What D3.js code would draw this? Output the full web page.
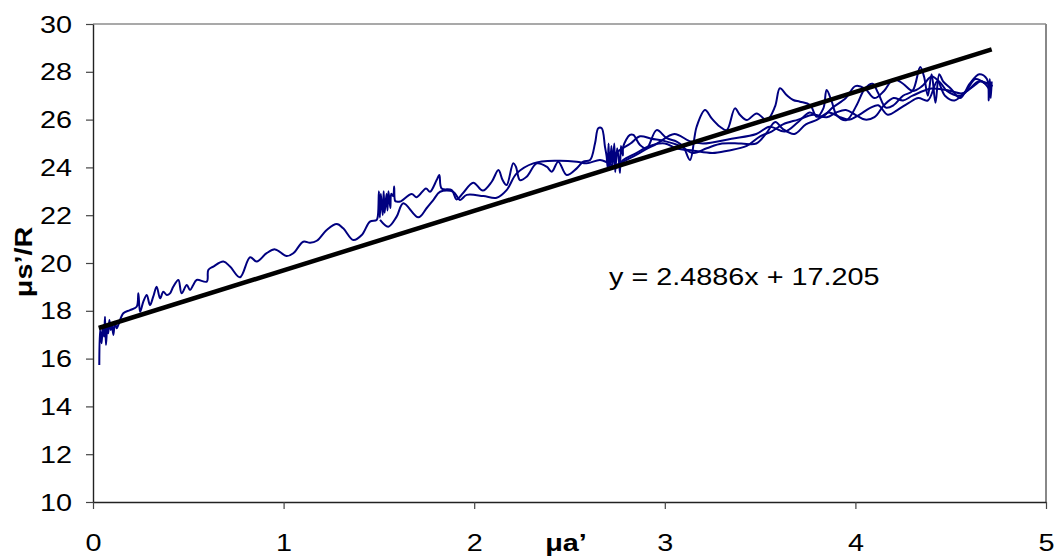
<!DOCTYPE html>
<html>
<head>
<meta charset="utf-8">
<script src="https://cdn.jsdelivr.net/npm/d3@7"></script>
<style>
  html, body { margin: 0; padding: 0; background: #fff; }
  svg { display: block; font-family: "Liberation Sans", Arial, sans-serif; }
</style>
</head>
<body>
<svg id="chart" width="1056" height="558"></svg>
<script>
// ---- data ----
const xTicks = [0, 1, 2, 3, 4, 5];
const yTicks = [10, 12, 14, 16, 18, 20, 22, 24, 26, 28, 30];
const xTitle = "μa’";
const yTitle = "μs’/R";
const trendSlope = 2.4886;
const trendIntercept = 17.205;
const trendRange = [0.03, 4.715];
const trendLabel = "y = 2.4886x + 17.205";

const run1 = [
  [0.033,15.73],[0.037,17.2],[0.045,16.64],[0.051,17.33],[0.058,16.92],[0.063,17.75],[0.068,16.57],[0.075,17.33],[0.080,17.06],[0.086,17.61],[0.093,17.2],[0.098,17.48],[0.107,16.99],[0.115,17.54],[0.124,17.27],[0.133,17.41],[0.159,17.9],[0.194,18.03],[0.229,18.17],[0.238,18.73],[0.247,17.96],[0.264,18.38],[0.282,18.66],[0.299,18.24],[0.316,18.59],[0.334,19.01],[0.352,18.52],[0.369,18.8],[0.387,18.66],[0.404,18.73],[0.421,19.01],[0.448,19.29],[0.465,18.73],[0.492,19.08],[0.509,18.87],[0.526,19.08],[0.544,19.29],[0.597,19.22],[0.605,19.71],[0.631,19.85],[0.684,20.06],[0.719,19.85],[0.771,19.40],[0.824,20.24],[0.859,20.06],[0.911,20.41],[0.955,20.57],[1.016,20.29],[1.051,20.41],[1.103,20.89],[1.139,20.85],[1.174,20.93],[1.226,21.38],[1.279,21.63],[1.313,21.45],[1.366,20.96],[1.410,21.17],[1.453,21.73],[1.488,21.80],
  [1.495,22.0],[1.50,23.0],[1.505,21.9],[1.51,22.9],[1.52,22.0],[1.525,23.0],[1.53,22.1],[1.54,22.9],[1.545,22.2],[1.55,23.0],[1.56,22.3],[1.565,22.9],[1.575,22.8],[1.58,23.2],[1.585,22.6],
  [1.593,22.57],[1.611,22.57],[1.672,22.89],[1.698,22.75],[1.747,23.12],[1.768,22.98],[1.803,23.47],[1.817,23.68],[1.829,23.12],[1.882,23.05],[1.908,22.66],[1.943,22.94],[1.995,23.36],[2.045,23.03],[2.092,23.40],[2.127,23.89],[2.149,23.47],[2.170,23.26],[2.205,24.17],[2.219,24.03],[2.240,23.47],[2.275,23.61],[2.328,24.17],[2.380,24.03],[2.407,23.82],[2.441,24.24],[2.485,23.68],[2.538,23.96],[2.572,24.24],[2.608,24.31],[2.634,25.01],[2.651,25.64],[2.669,25.64],[2.686,24.87],[2.695,24.45],
  [2.70,24.0],[2.705,25.0],[2.71,23.9],[2.72,24.9],[2.725,24.0],[2.735,25.0],[2.74,23.8],[2.75,24.8],[2.76,24.2],[2.765,23.77],[2.77,24.9],[2.78,24.5],
  [2.782,24.87],[2.817,25.36],[2.835,25.36],[2.870,24.94],[2.905,24.80],[2.957,25.56],[3.010,25.22],[3.062,25.08],[3.097,24.87],[3.132,24.31],[3.167,25.70],[3.211,26.40],[3.246,26.05],[3.290,25.70],[3.325,25.56],[3.368,26.47],[3.395,26.19],[3.430,25.98],[3.482,26.26],[3.535,25.98],[3.578,26.54],[3.604,27.31],[3.639,27.03],[3.674,26.82],[3.709,26.75],[3.762,26.61],[3.797,26.12],[3.832,26.47],[3.849,27.24],[3.876,26.75],[3.902,26.19],[3.954,25.98],[4.007,26.61],[4.05,27.3],[4.09,27.5],[4.12,27.1],[4.16,26.5],[4.2,26.6],[4.25,27.0],[4.30,27.2],[4.34,28.2],[4.36,27.8],[4.38,27.0],[4.40,27.9],[4.42,26.7],[4.44,27.9],[4.46,27.6],[4.5,27.3],[4.55,26.9],[4.6,27.5],[4.65,27.9],[4.69,27.7],[4.70,26.8],[4.705,27.7],[4.71,26.9],[4.715,27.6]
];

const run2 = [
  [1.506,21.80],[1.549,21.52],[1.593,21.94],[1.628,22.50],[1.707,21.91],[1.750,22.29],[1.786,22.64],[1.821,22.98],[1.891,22.98],[1.925,22.64],[1.961,22.85],[2.048,22.80],[2.118,22.73],[2.170,23.05],[2.223,23.75],[2.310,24.17],[2.433,24.28],[2.538,24.24],[2.590,24.17],[2.660,24.31],
  [2.70,24.2],[2.75,24.0],[2.78,24.3],[2.85,24.6],[2.92,24.9],[3.0,25.0],[3.06,24.8],[3.15,24.7],[3.25,24.6],[3.33,24.7],[3.43,24.9],[3.5,25.3],[3.56,25.5],[3.62,25.8],[3.7,26.0],[3.78,26.2],[3.85,26.1],[3.9,26.3],[3.95,26.4],[4.0,26.2],[4.05,26.0],[4.1,26.1],[4.15,26.6],[4.2,26.9],[4.25,26.8],[4.3,27.0],[4.4,27.3],[4.5,27.2],[4.56,27.1],[4.62,27.4],[4.66,27.6],[4.7,27.3]
];

const run3 = [
  [2.72,24.0],[2.82,24.4],[2.9,24.75],[2.96,25.0],[3.05,25.4],[3.13,25.1],[3.2,25.0],[3.35,25.2],[3.48,25.4],[3.55,25.7],[3.63,25.5],[3.7,25.9],[3.76,26.3],[3.82,26.1],[3.88,26.5],[3.95,26.9],[4.0,27.4],[4.05,27.3],[4.1,26.9],[4.15,27.2],[4.2,27.7],[4.25,27.5],[4.3,27.2],[4.35,27.4],[4.4,27.8],[4.45,27.5],[4.48,27.2],[4.55,27.0],[4.6,27.3],[4.65,27.6],[4.72,27.4]
];

const run4 = [
  [2.70,24.3],[2.76,24.7],[2.82,25.0],[2.87,25.3],[2.93,25.2],[3.0,25.1],[3.08,24.9],[3.15,24.6],[3.22,24.8],[3.3,25.0],[3.4,25.0],[3.48,25.0],[3.53,25.4],[3.58,25.9],[3.62,25.6],[3.68,25.4],[3.74,25.8],[3.8,26.0],[3.86,26.3],[3.92,26.1],[3.97,26.0],[4.02,26.2],[4.08,26.5],[4.12,26.6],[4.17,26.2],[4.22,26.4],[4.28,26.7],[4.33,26.9],[4.38,26.8],[4.43,27.6],[4.47,27.0],[4.52,26.8],[4.58,27.2],[4.63,27.7],[4.68,27.5]
];

const runs = [run1, run2, run3, run4];

// ---- layout ----
const plot = { left: 93, right: 1046, top: 24, bottom: 502 };
const stretch = 1.2;
const svg = d3.select("#chart");

const x = d3.scaleLinear().domain([0, 5]).range([plot.left, plot.right]);
const y = d3.scaleLinear().domain([10, 30]).range([plot.bottom, plot.top]);

// plot-area border (top / right)
svg.append("line").attr("x1", plot.left).attr("x2", plot.right).attr("y1", plot.top).attr("y2", plot.top)
  .attr("stroke", "#555").attr("stroke-width", 1.2);
svg.append("line").attr("x1", plot.right).attr("x2", plot.right).attr("y1", plot.top).attr("y2", plot.bottom)
  .attr("stroke", "#888").attr("stroke-width", 2);

// y axis
const yAxis = svg.append("g").attr("transform", `translate(${plot.left},0)`)
  .call(d3.axisLeft(y).tickValues(yTicks).tickSize(7).tickSizeOuter(0).tickFormat(d3.format("d")));
yAxis.select(".domain").attr("stroke", "#222").attr("stroke-width", 1.4);
yAxis.selectAll(".tick line").attr("stroke", "#444").attr("stroke-width", 1.2);
yAxis.selectAll(".tick text")
  .attr("x", null).attr("dy", null)
  .attr("dominant-baseline", "central")
  .attr("transform", `translate(-21,0) scale(${stretch},1)`)
  .attr("text-anchor", "end")
  .attr("fill", "#000")
  .style("font-size", "24px")
  .style("font-family", "'Liberation Sans', Arial, sans-serif");

// x axis
const xAxis = svg.append("g").attr("transform", `translate(0,${plot.bottom})`)
  .call(d3.axisBottom(x).tickValues(xTicks).tickSize(7).tickSizeOuter(0).tickFormat(d3.format("d")));
xAxis.select(".domain").attr("stroke", "#222").attr("stroke-width", 1.4);
xAxis.selectAll(".tick line").attr("stroke", "#444").attr("stroke-width", 1.2);
xAxis.selectAll(".tick text")
  .attr("y", null).attr("dy", null)
  .attr("transform", `translate(0,49) scale(${stretch},1)`)
  .attr("text-anchor", "middle")
  .attr("fill", "#000")
  .style("font-size", "24px")
  .style("font-family", "'Liberation Sans', Arial, sans-serif");

// data lines (smoothed, like the original spreadsheet chart)
const smooth = d3.line().x(d => x(d[0])).y(d => y(d[1])).curve(d3.curveCatmullRom.alpha(0.5));
svg.append("g").selectAll("path").data(runs).join("path")
  .attr("d", smooth)
  .attr("fill", "none")
  .attr("stroke", "#000080")
  .attr("stroke-width", 2)
  .attr("stroke-linejoin", "round");

// trend line
const straight = d3.line().x(d => x(d[0])).y(d => y(d[1]));
const trendPts = trendRange.map(v => [v, trendSlope * v + trendIntercept]);
svg.append("path").datum(trendPts).attr("d", straight)
  .attr("fill", "none").attr("stroke", "#000").attr("stroke-width", 4.5);

// equation label
svg.append("text")
  .attr("transform", `translate(609,285) scale(${stretch},1)`)
  .attr("font-size", 24)
  .attr("fill", "#000")
  .text(trendLabel);

// axis titles
svg.append("text")
  .attr("transform", `translate(566,551) scale(${stretch},1)`)
  .attr("text-anchor", "middle")
  .attr("font-size", 24).attr("font-weight", "bold")
  .text(xTitle);

svg.append("text")
  .attr("transform", `translate(32,262) rotate(-90) scale(${stretch},1)`)
  .attr("text-anchor", "middle")
  .attr("font-size", 24).attr("font-weight", "bold")
  .text(yTitle);
</script>
</body>
</html>
